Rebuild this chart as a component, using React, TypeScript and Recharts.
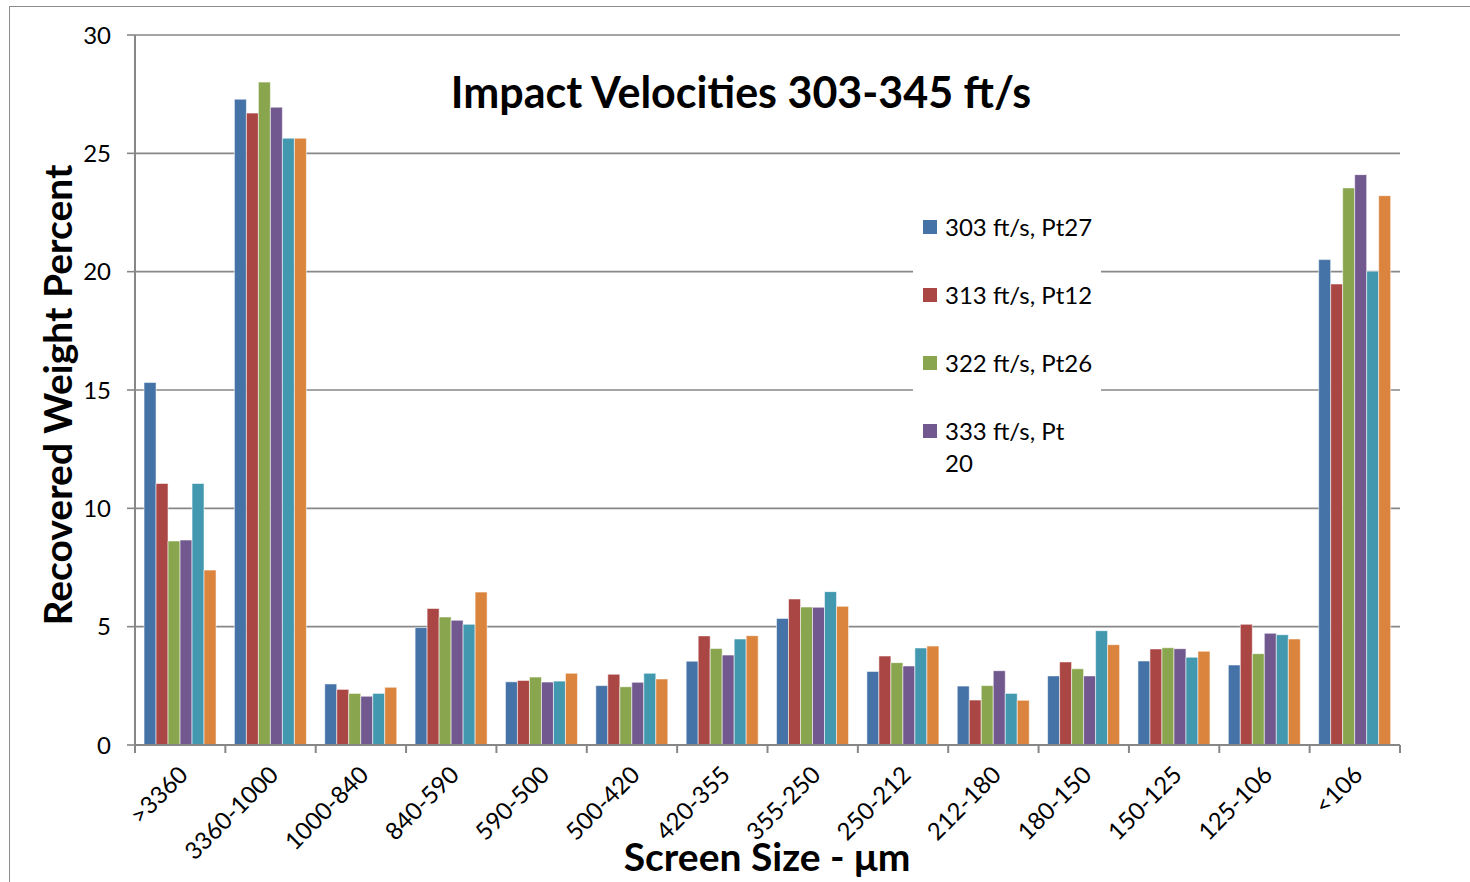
import { Bar, BarChart, CartesianGrid, Legend, XAxis, YAxis } from "recharts";

const categories = [
  ">3360",
  "3360-1000",
  "1000-840",
  "840-590",
  "590-500",
  "500-420",
  "420-355",
  "355-250",
  "250-212",
  "212-180",
  "180-150",
  "150-125",
  "125-106",
  "<106",
];

const v303 = [15.32, 27.29, 2.58, 4.96, 2.67, 2.51, 3.54, 5.35, 3.11, 2.49, 2.92, 3.55, 3.38, 20.51];
const v313 = [11.05, 26.7, 2.35, 5.77, 2.73, 2.99, 4.61, 6.17, 3.76, 1.9, 3.51, 4.06, 5.1, 19.48];
const v322 = [8.62, 28.01, 2.18, 5.41, 2.87, 2.46, 4.08, 5.83, 3.48, 2.51, 3.22, 4.11, 3.86, 23.54];
const v333 = [8.66, 26.95, 2.06, 5.27, 2.66, 2.65, 3.8, 5.82, 3.34, 3.14, 2.92, 4.07, 4.72, 24.1];
const v5 = [11.05, 25.64, 2.18, 5.1, 2.7, 3.03, 4.48, 6.48, 4.1, 2.18, 4.83, 3.71, 4.66, 20.02];
const v6 = [7.39, 25.64, 2.44, 6.46, 3.03, 2.79, 4.62, 5.86, 4.18, 1.89, 4.24, 3.96, 4.48, 23.21];

const yTicks = [0, 5, 10, 15, 20, 25, 30];

const series = [
  { key: "s303", name: "303 ft/s, Pt27", values: v303, color: "#4572A7" },
  { key: "s313", name: "313 ft/s, Pt12", values: v313, color: "#AA4643" },
  { key: "s322", name: "322 ft/s, Pt26", values: v322, color: "#89A54E" },
  { key: "s333", name: "333 ft/s, Pt 20", values: v333, color: "#71588F" },
  { key: "s5", name: "Series5", values: v5, color: "#4198AF" },
  { key: "s6", name: "Series6", values: v6, color: "#DB843D" },
];

const data = categories.map((cat, i) => {
  const row: Record<string, string | number> = { cat };
  series.forEach((s) => {
    row[s.key] = s.values[i];
  });
  return row;
});

const FONT = "Lato, 'Noto Sans', sans-serif";
const AXIS_GRAY = "#878787";
const WIDTH = 1470;
const HEIGHT = 882;
const MARGIN = { top: 35, right: 70, bottom: 37, left: 75 };
const Y_AXIS_W = 60;
const X_AXIS_H = 100;
const PLOT_W = WIDTH - MARGIN.left - MARGIN.right - Y_AXIS_W;
const BAND = PLOT_W / categories.length;

const XTick = ({ x = 0, y = 0, payload, index }: any) => {
  const half = BAND / 2;
  const tx = x + 5;
  const ty = y + 27;
  return (
    <g>
      <line x1={x - half} y1={y} x2={x - half} y2={y + 8} stroke={AXIS_GRAY} strokeWidth={2} />
      {index === categories.length - 1 ? (
        <line x1={x + half} y1={y} x2={x + half} y2={y + 8} stroke={AXIS_GRAY} strokeWidth={2} />
      ) : null}
      <text
        x={tx}
        y={ty}
        transform={`rotate(-45, ${tx}, ${ty})`}
        textAnchor="end"
        dominantBaseline="middle"
        fontFamily={FONT}
        fontSize={24}
        fill="#000"
      >
        {payload.value}
      </text>
    </g>
  );
};

const LegendBox = () => (
  <div style={{ background: "#fff", width: 188, height: 292, paddingTop: 21, boxSizing: "border-box" }}>
    {series.slice(0, 4).map((s) => {
      const parts = s.name.split(/ (?=\d+$)/);
      return (
        <div key={s.key} style={{ display: "flex", alignItems: "flex-start", height: 68 }}>
          <div
            style={{ width: 14, height: 14, background: s.color, marginLeft: 10, marginTop: 9, flexShrink: 0 }}
          />
          <div style={{ marginLeft: 8, fontFamily: FONT, fontSize: 24, lineHeight: "32px", color: "#000" }}>
            {parts.map((p, i) => (
              <div key={i}>{p}</div>
            ))}
          </div>
        </div>
      );
    })}
  </div>
);

export default function App() {
  return (
    <div
      style={{
        position: "fixed",
        left: 0,
        top: 0,
        width: WIDTH,
        height: HEIGHT,
        overflow: "hidden",
        background: "#fff",
      }}
    >
      <div
        style={{
          position: "absolute",
          left: 9,
          top: 6,
          width: 1600,
          height: 1000,
          border: "1.5px solid #8c8c8c",
        }}
      />
      <div style={{ position: "absolute", left: 0, top: 0 }}>
        <BarChart
          width={WIDTH}
          height={HEIGHT}
          data={data}
          margin={MARGIN}
          barCategoryGap="10%"
          barGap={0}
        >
          <CartesianGrid vertical={false} stroke={AXIS_GRAY} strokeWidth={1.6} />
          <XAxis
            dataKey="cat"
            height={X_AXIS_H}
            interval={0}
            tickLine={false}
            tickSize={0}
            tickMargin={0}
            axisLine={{ stroke: AXIS_GRAY, strokeWidth: 2 }}
            tick={<XTick />}
          />
          <YAxis
            width={Y_AXIS_W}
            domain={[0, 30]}
            ticks={yTicks}
            interval={0}
            tickSize={8}
            tickMargin={16}
            axisLine={{ stroke: AXIS_GRAY, strokeWidth: 2 }}
            tickLine={{ stroke: AXIS_GRAY, strokeWidth: 1.6 }}
            tick={{ fill: "#000", fontSize: 24, fontFamily: FONT }}
          />
          <Legend
            layout="vertical"
            align="center"
            verticalAlign="middle"
            wrapperStyle={{ left: 913, top: 190, width: 188, height: 292 }}
            content={<LegendBox />}
          />
          {series.map((s) => (
            <Bar
              key={s.key}
              dataKey={s.key}
              name={s.name}
              fill={s.color}
              stroke="rgba(255,255,255,0.55)"
              strokeWidth={1}
              isAnimationActive={false}
            />
          ))}
        </BarChart>
      </div>
      <div
        style={{
          position: "absolute",
          left: 741,
          top: 91,
          transform: "translate(-50%, -50%)",
          fontFamily: FONT,
          fontWeight: 700,
          fontSize: 43,
          whiteSpace: "nowrap",
          color: "#000",
        }}
      >
        Impact Velocities 303-345 ft/s
      </div>
      <div
        style={{
          position: "absolute",
          left: 57,
          top: 395,
          transform: "translate(-50%, -50%) rotate(-90deg)",
          fontFamily: FONT,
          fontWeight: 700,
          fontSize: 39,
          whiteSpace: "nowrap",
          color: "#000",
        }}
      >
        Recovered Weight Percent
      </div>
      <div
        style={{
          position: "absolute",
          left: 767,
          top: 856,
          transform: "translate(-50%, -50%)",
          fontFamily: FONT,
          fontWeight: 700,
          fontSize: 39,
          whiteSpace: "nowrap",
          color: "#000",
        }}
      >
        Screen Size - μm
      </div>
    </div>
  );
}
